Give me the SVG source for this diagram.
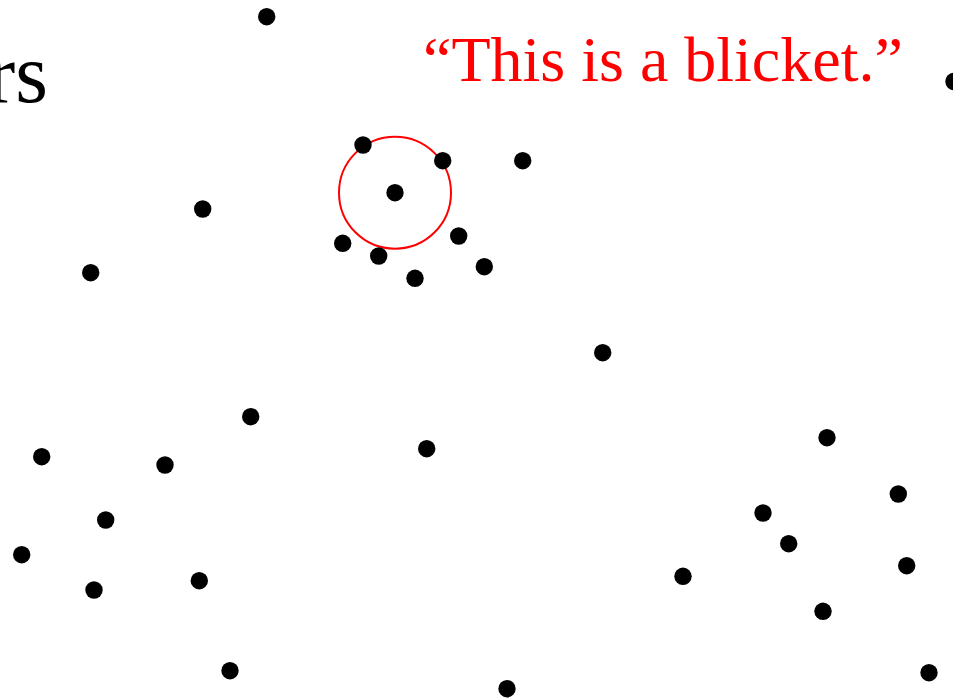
<svg xmlns="http://www.w3.org/2000/svg" width="953" height="699" viewBox="0 0 953 699">
<style>
.d{fill:#000}
.t{font-family:"Liberation Serif","Times New Roman",serif}
</style>
<rect width="953" height="699" fill="#fff"/>
<text id="partial-title" class="t" x="48" y="101.5" font-size="84" text-anchor="end" fill="#000">rs</text>
<text id="label" class="t" x="423" y="81" font-size="64" fill="#f00">“This is a blicket.”</text>
<circle id="highlight" cx="395" cy="192.7" r="56" fill="none" stroke="#f00" stroke-width="2"/>
<g id="dots" class="d">
<circle cx="266.7" cy="16.7" r="8.7"/>
<circle cx="954" cy="81.5" r="8.7"/>
<circle cx="363" cy="145" r="8.7"/>
<circle cx="442.7" cy="160.7" r="8.7"/>
<circle cx="522.7" cy="160.7" r="8.7"/>
<circle cx="395" cy="192.7" r="8.7"/>
<circle cx="202.7" cy="209" r="8.7"/>
<circle cx="90.7" cy="272.7" r="8.7"/>
<circle cx="342.7" cy="243.3" r="8.7"/>
<circle cx="378.7" cy="256" r="8.7"/>
<circle cx="458.7" cy="236" r="8.7"/>
<circle cx="484.3" cy="266.7" r="8.7"/>
<circle cx="415" cy="278.3" r="8.7"/>
<circle cx="602.7" cy="352.7" r="8.7"/>
<circle cx="250.7" cy="416.7" r="8.7"/>
<circle cx="426.7" cy="448.7" r="8.7"/>
<circle cx="41.7" cy="456.7" r="8.7"/>
<circle cx="165" cy="465" r="8.7"/>
<circle cx="105.7" cy="520" r="8.7"/>
<circle cx="21.7" cy="554.7" r="8.7"/>
<circle cx="94" cy="590" r="8.7"/>
<circle cx="199.3" cy="580.7" r="8.7"/>
<circle cx="230" cy="670.7" r="8.7"/>
<circle cx="507" cy="688.7" r="8.7"/>
<circle cx="827" cy="437.7" r="8.7"/>
<circle cx="898.3" cy="494" r="8.7"/>
<circle cx="763" cy="513" r="8.7"/>
<circle cx="788.7" cy="543.7" r="8.7"/>
<circle cx="683" cy="576.3" r="8.7"/>
<circle cx="906.7" cy="565.7" r="8.7"/>
<circle cx="823" cy="611.3" r="8.7"/>
<circle cx="929" cy="672.7" r="8.7"/>
</g>
</svg>
